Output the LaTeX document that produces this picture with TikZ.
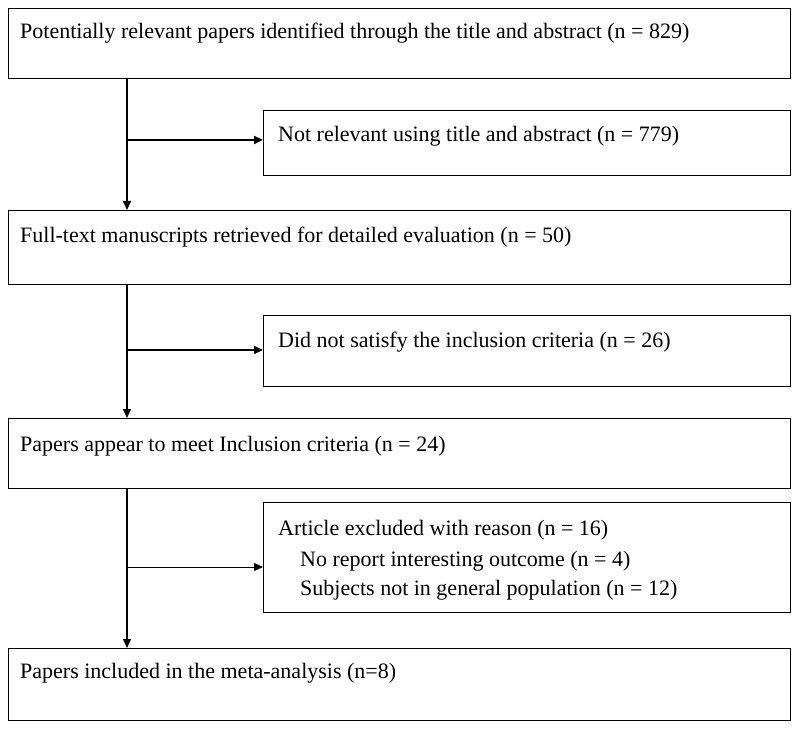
\documentclass[tikz,border=0pt]{standalone}
\usepackage{fontspec}
\setmainfont{Liberation Serif}
\usetikzlibrary{arrows.meta}
\begin{document}
\begin{tikzpicture}[x=1pt,y=-1pt,
  box/.style={draw,line width=1pt,inner sep=0pt,anchor=north west},
  txt/.style={anchor=west,inner sep=0pt,font=\fontsize{22}{26}\selectfont},
  conn/.style={line width=1.6pt,-{Triangle[length=9pt,width=8pt]}}]
\useasboundingbox (0,0) rectangle (800,735);
\node[box,minimum width=782pt,minimum height=70pt] (b1) at (8,8) {};
\node[box,minimum width=527pt,minimum height=65pt] (b2) at (263,110) {};
\node[box,minimum width=782pt,minimum height=74pt] (b3) at (8,210) {};
\node[box,minimum width=527pt,minimum height=71pt] (b4) at (263,315) {};
\node[box,minimum width=782pt,minimum height=70pt] (b5) at (8,418) {};
\node[box,minimum width=527pt,minimum height=110pt] (b6) at (263,502) {};
\node[box,minimum width=782pt,minimum height=72pt] (b7) at (8,648) {};
\node[txt] (t1) at (20,33) {Potentially relevant papers identified through the title and abstract (n = 829)};
\node[txt] (t2) at (278,136) {Not relevant using title and abstract (n = 779)};
\node[txt] (t3) at (20,237) {Full-text manuscripts retrieved for detailed evaluation (n = 50)};
\node[txt] (t4) at (278,342) {Did not satisfy the inclusion criteria (n = 26)};
\node[txt] (t5) at (20,446) {Papers appear to meet Inclusion criteria (n = 24)};
\node[txt] (t6) at (278,530) {Article excluded with reason (n = 16)};
\node[txt] (t6b) at (300,561) {No report interesting outcome (n = 4)};
\node[txt] (t6c) at (300,590) {Subjects not in general population (n = 12)};
\node[txt] (t7) at (20,673) {Papers included in the meta-analysis (n=8)};
\draw[conn,line width=2pt] (b1.south west -| 127,0) -- (b3.north west -| 127,0);
\draw[conn] (b3.south west -| 127,0) -- (b5.north west -| 127,0);
\draw[conn,line width=1.3pt] (b5.south west -| 127,0) -- (b7.north west -| 127,0);
\draw[conn,line width=2.4pt] (127,140) -- (b2.west |- 0,140);
\draw[conn] (127,350) -- (b4.west |- 0,350);
\draw[conn,line width=1pt] (127,567) -- (b6.west |- 0,567);
\end{tikzpicture}
\end{document}
